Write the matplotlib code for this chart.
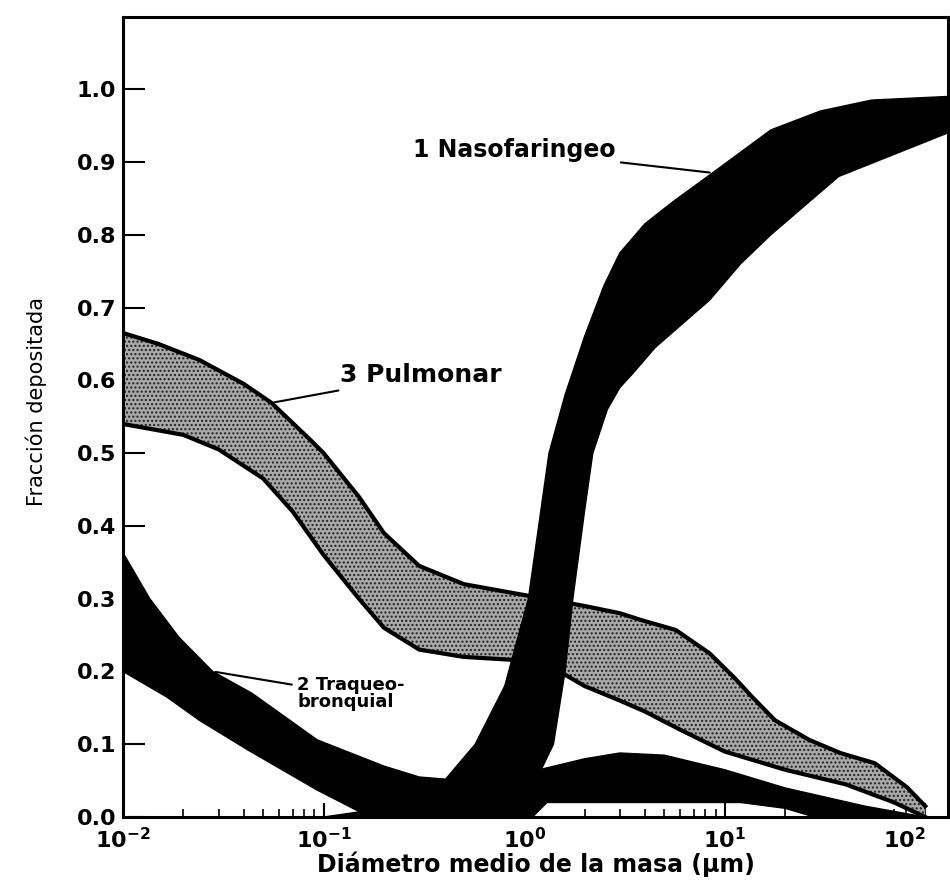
import matplotlib.pyplot as plt
from matplotlib.ticker import LogLocator, FixedLocator

plt.rcParams["font.family"] = ["DejaVu Sans"]
plt.rcParams["mathtext.default"] = "bf"

# 1 Nasofaringeo: borde superior (izq.) e inferior (der.)
naso_sup_x = [0.1, 0.2, 0.3, 0.4, 0.57, 0.8, 1.05, 1.33, 1.6, 2.0, 2.5, 3.0, 4.0, 5.5, 8.7, 17, 30, 54, 130]
naso_sup_y = [0.0, 0.012, 0.03, 0.05, 0.1, 0.18, 0.3, 0.5, 0.58, 0.66, 0.73, 0.775, 0.815, 0.845, 0.885, 0.944,
              0.97, 0.985, 0.99]
naso_inf_x = [0.9, 1.1, 1.4, 1.6, 1.75, 2.0, 2.2, 2.6, 3.0, 3.5, 4.5, 6.0, 8.4, 12, 17, 37, 130]
naso_inf_y = [0.0, 0.04, 0.1, 0.2, 0.3, 0.42, 0.5, 0.56, 0.59, 0.61, 0.645, 0.675, 0.71, 0.76, 0.80, 0.88, 0.94]

# 2 Traqueobronquial
traq_sup_x = [0.01, 0.0136, 0.019, 0.028, 0.044, 0.093, 0.2, 0.3, 0.5, 1.0, 2.0, 3.0, 5.0, 10, 20, 50, 100]
traq_sup_y = [0.363, 0.30, 0.247, 0.20, 0.17, 0.106, 0.07, 0.055, 0.05, 0.06, 0.08, 0.088, 0.085, 0.065, 0.04, 0.015, 0.0]
traq_inf_x = [0.01, 0.0165, 0.024, 0.042, 0.093, 0.17, 1.1, 1.3, 5.0, 12, 20, 28, 100]
traq_inf_y = [0.20, 0.165, 0.133, 0.092, 0.037, 0.0, 0.0, 0.02, 0.02, 0.02, 0.012, 0.0, 0.0]

# 3 Pulmonar
pulm_sup_x = [0.01, 0.015, 0.024, 0.04, 0.055, 0.086, 0.1, 0.15, 0.2, 0.3, 0.5, 1.0, 2.0, 3.0, 3.9, 5.7, 8.4,
              11.3, 13.7, 17.8, 26.4, 37.7, 56, 81, 100]
pulm_sup_y = [0.665, 0.65, 0.628, 0.595, 0.569, 0.518, 0.5, 0.44, 0.39, 0.345, 0.32, 0.305, 0.29, 0.28, 0.27,
              0.257, 0.225, 0.19, 0.165, 0.133, 0.106, 0.088, 0.074, 0.041, 0.015]
pulm_inf_x = [0.01, 0.02, 0.03, 0.05, 0.07, 0.1, 0.15, 0.2, 0.3, 0.5, 1.0, 1.5, 2.0, 3.0, 4.0, 6.0, 10, 20, 40, 70, 100]
pulm_inf_y = [0.54, 0.525, 0.505, 0.465, 0.42, 0.36, 0.30, 0.26, 0.23, 0.22, 0.215, 0.2, 0.18, 0.16, 0.145,
              0.12, 0.09, 0.065, 0.045, 0.02, 0.0]

ytick_vals = [0.0, 0.1, 0.2, 0.3, 0.4, 0.5, 0.6, 0.7, 0.8, 0.9, 1.0]
xtick_vals = [1e-2, 1e-1, 1e0, 1e1, 1e2]
xtick_txt = [r"$10^{-2}$", r"$10^{-1}$", r"$10^{0}$", r"$10^{1}$", r"$10^{2}$"]

fig = plt.figure(figsize=(9.5, 8.81), dpi=100)
ax = fig.add_axes([0.1295, 0.0726, 0.8685, 0.908])
ax.set_xscale("log")


def banda(xs, ys, xi, yi, **kw):
    px = list(xs) + list(xi)[::-1]
    py = list(ys) + list(yi)[::-1]
    ax.fill(px, py, **kw)


# pulmonar (gris punteado)
banda(pulm_sup_x, pulm_sup_y, pulm_inf_x, pulm_inf_y, facecolor="#a8a8a8", edgecolor="#202020",
      lw=0, hatch="....", zorder=2)
ax.plot(pulm_sup_x, pulm_sup_y, color="black", lw=3, zorder=3)
ax.plot(pulm_inf_x, pulm_inf_y, color="black", lw=3, zorder=3)

# traqueobronquial (negro)
banda(traq_sup_x, traq_sup_y, traq_inf_x, traq_inf_y, facecolor="black", edgecolor="black", lw=1, zorder=4)

# nasofaringeo (negro)
banda(naso_sup_x, naso_sup_y, naso_inf_x, naso_inf_y, facecolor="black", edgecolor="black", lw=1, zorder=5)

ax.set_xlim(1e-2, 130)
ax.set_ylim(0, 1.099)

ax.yaxis.set_major_locator(FixedLocator(ytick_vals))
ax.set_yticklabels([f"{v:.1f}" for v in ytick_vals], fontsize=16, fontweight="bold")
ax.set_xticks(xtick_vals)
ax.set_xticklabels(xtick_txt, fontsize=16)
ax.get_xticklabels()[-1].set_horizontalalignment("right")
ax.xaxis.set_minor_locator(LogLocator(base=10, subs=range(2, 10), numticks=20))
ax.tick_params(axis="y", direction="in", length=16, width=1.5, pad=5)
ax.tick_params(axis="x", which="major", direction="in", length=10, width=1.5, pad=7)
ax.tick_params(axis="x", which="minor", direction="in", length=6, width=1.2)
for s in ax.spines.values():
    s.set_linewidth(2.2)

ax.set_xlabel("Diámetro medio de la masa (µm)", fontsize=17, fontweight="bold", labelpad=0)
ax.set_ylabel("Fracción depositada", fontsize=15)
ax.yaxis.set_label_coords(-0.092, 0.52)

# etiquetas con líneas guía
ax.annotate("1 Nasofaringeo", xy=(8.7, 0.885), xytext=(2.85, 0.916), fontsize=17, fontweight="bold",
            ha="right", va="center", arrowprops=dict(arrowstyle="-", color="black", lw=1.5), zorder=6)
ax.annotate("3 Pulmonar", xy=(0.055, 0.569), xytext=(0.121, 0.607), fontsize=18, fontweight="bold",
            ha="left", va="center", arrowprops=dict(arrowstyle="-", color="black", lw=1.5), zorder=6)
ax.annotate("2 Traqueo-\nbronquial", xy=(0.028, 0.20), xytext=(0.074, 0.17), fontsize=13, fontweight="bold",
            ha="left", va="center", linespacing=0.95,
            arrowprops=dict(arrowstyle="-", color="black", lw=1.5, relpos=(0, 0.72)), zorder=6)

fig.savefig("out.png", dpi=100)
